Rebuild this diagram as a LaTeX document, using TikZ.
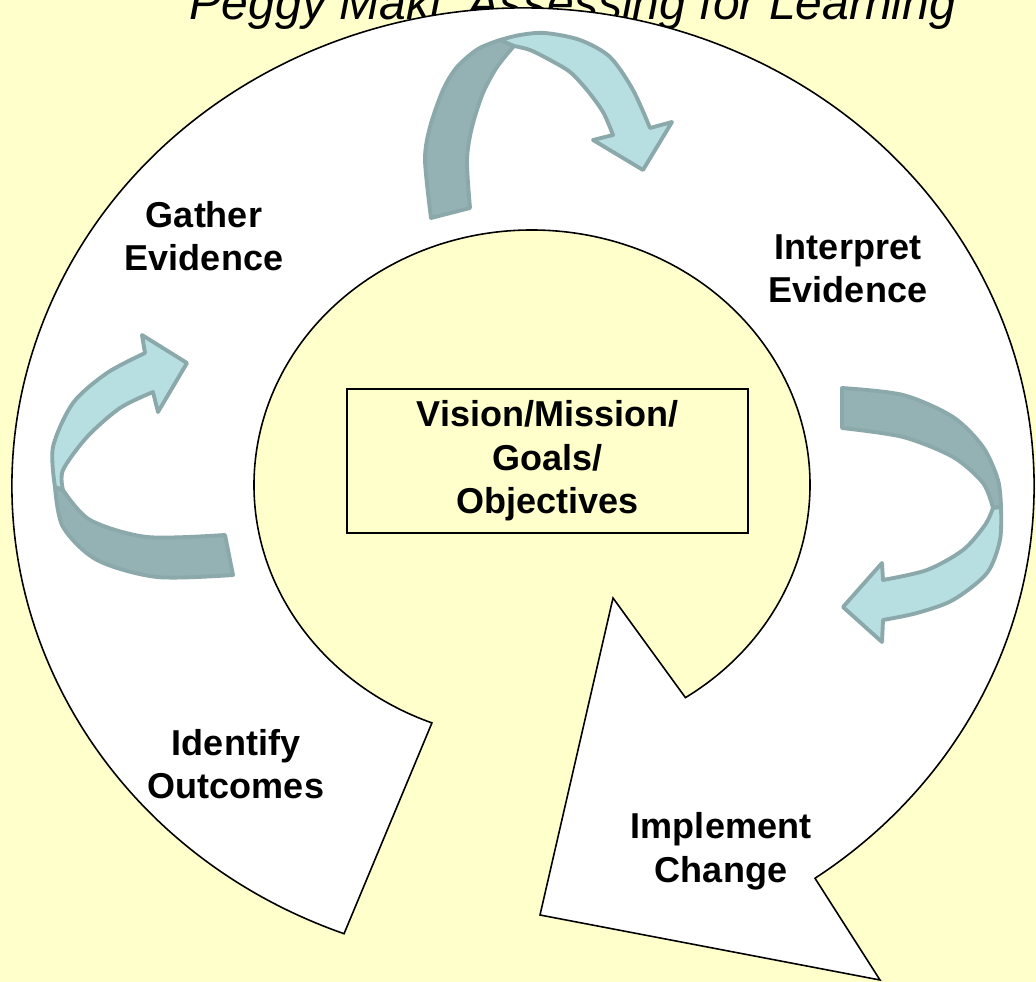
\documentclass[tikz,border=0pt]{standalone}
\usepackage{fontspec}
\setmainfont{Liberation Sans}
\usetikzlibrary{calc}

\definecolor{papier}{HTML}{FFFFCC}
\definecolor{bandhell}{HTML}{B7DFE2}
\definecolor{banddunkel}{HTML}{94B2B3}
\definecolor{bandrand}{HTML}{8BA8AA}

\begin{document}
\begin{tikzpicture}[x=0.01cm, y=-0.01cm,
  every node/.style={font=\fontsize{10.24pt}{12.38pt}\selectfont\bfseries, align=center, inner sep=0pt},
  ring/.style={draw=black, line width=0.45pt, fill=white},
  vorne/.style={fill=bandhell, draw=bandrand, line width=1.1pt, line join=round},
  hinten/.style={fill=banddunkel, draw=bandrand, line width=1.1pt, line join=round}]
% Hintergrund
\fill[papier] (0,0) rectangle (1036,982);
\useasboundingbox (0,0) rectangle (1036,982);

% Überschrift (oben angeschnitten)
\node[font=\fontsize{13.66pt}{16pt}\selectfont\itshape, anchor=base] (titel) at (573,20) {Peggy Maki, Assessing for Learning};

% Kreispfeil
\coordinate (ringmitte) at (523,486);
\coordinate (lochmitte) at (532,485);
\coordinate (schwanz) at ($(ringmitte)+(110.5:511 and 478)$);
\coordinate (kerbe) at ($(lochmitte)+(56.5:278 and 255)$);
\coordinate (widerhakenaussen) at (880,980);
\coordinate (spitze) at (540,915);
\coordinate (widerhakeninnen) at (613,598);
\draw[ring] (schwanz) arc[start angle=110.5, end angle=415.15, x radius=511, y radius=478]
  -- (widerhakenaussen) -- (spitze) -- (widerhakeninnen) -- (kerbe)
  arc[start angle=56.5, end angle=-248.9, x radius=278, y radius=255] -- cycle;

% Mitte
\node[draw, line width=0.6pt, minimum width=4.01cm, minimum height=1.44cm] (ziel) at (547.5,461) {Vision/Mission/\\Goals/\\Objectives};

% Schritte
\node (sammeln) at (204,236) {Gather\\Evidence};
\node (deuten) at (848,269) {Interpret\\Evidence};
\node (festlegen) at (236,764) {Identify\\Outcomes};
\node (umsetzen) at (721,851) {Implement\\Change};

% Pfeil oben
\filldraw[hinten] plot[smooth] coordinates {(431,218) (425,160) (430,127) (443,90) (457,67) (478,49) (500,40)}
  -- plot[smooth] coordinates {(514,46) (497,67) (483,93) (472,127) (467,160) (470,208)} -- cycle;
\filldraw[vorne] plot[smooth] coordinates {(500,40) (520,35) (545,33) (580,40) (610,57) (633,90) (650,128)}
  -- (672,122) -- (643,170) -- (593,140)
  -- plot[smooth] coordinates {(613,135) (603,112) (587,90) (570,72) (550,60) (530,50) (514,46)} -- cycle;

% Pfeil rechts
\filldraw[hinten] plot[smooth] coordinates {(842,388) (903,395) (953,417) (983,447) (998,480) (1001,507)}
  -- plot[smooth] coordinates {(993,508) (983,483) (953,457) (903,437) (842,428)} -- cycle;
\filldraw[vorne] plot[smooth] coordinates {(1001,507) (1000,540) (987,573) (953,600) (917,613) (883,620)}
  -- (882,642) -- (843,607) -- (882,563)
  -- plot[smooth] coordinates {(883,580) (927,570) (963,550) (985,525) (993,508)} -- cycle;

% Pfeil links
\filldraw[hinten] plot[smooth] coordinates {(233,575) (157,577) (97,560) (63,527) (55,487)}
  -- plot[smooth] coordinates {(63,490) (90,520) (147,537) (225,535)} -- cycle;
\filldraw[vorne] plot[smooth] coordinates {(55,487) (53,447) (73,403) (107,373) (145,353)}
  -- (142,335) -- (187,363) -- (158,412)
  -- plot[smooth] coordinates {(153,392) (120,408) (87,437) (63,470) (63,490)} -- cycle;
\end{tikzpicture}
\end{document}
